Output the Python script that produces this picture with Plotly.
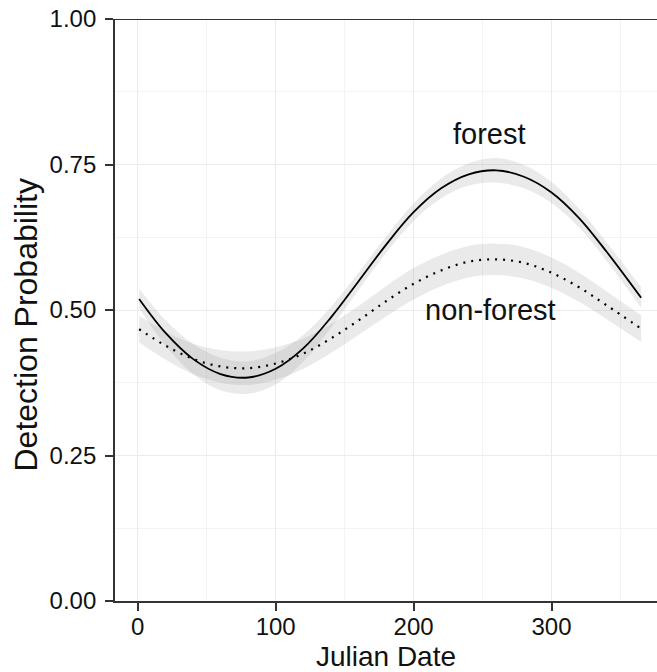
import plotly.graph_objects as go

# Julian day sample points
days = [1, 20, 40, 60, 80, 100, 120, 140, 160, 180, 200, 220, 240, 260, 280, 300, 320, 340, 365]

forest = [0.519, 0.461, 0.416, 0.390, 0.384, 0.399, 0.434, 0.487, 0.549, 0.612,
          0.668, 0.709, 0.733, 0.740, 0.729, 0.702, 0.658, 0.600, 0.521]
forest_lo = [0.503, 0.439, 0.390, 0.362, 0.356, 0.372, 0.411, 0.469, 0.534, 0.598,
             0.653, 0.692, 0.714, 0.719, 0.709, 0.684, 0.642, 0.584, 0.504]
forest_hi = [0.537, 0.483, 0.442, 0.418, 0.412, 0.426, 0.457, 0.505, 0.564, 0.626,
             0.683, 0.726, 0.752, 0.761, 0.749, 0.720, 0.674, 0.616, 0.539]

nonforest = [0.467, 0.439, 0.416, 0.403, 0.400, 0.408, 0.425, 0.451, 0.482, 0.515,
             0.545, 0.568, 0.583, 0.587, 0.581, 0.564, 0.539, 0.508, 0.468]
nonforest_lo = [0.444, 0.415, 0.390, 0.375, 0.371, 0.380, 0.399, 0.426, 0.457, 0.489,
                0.518, 0.541, 0.556, 0.560, 0.554, 0.538, 0.514, 0.484, 0.445]
nonforest_hi = [0.490, 0.463, 0.442, 0.431, 0.429, 0.436, 0.451, 0.476, 0.507, 0.541,
                0.572, 0.595, 0.610, 0.614, 0.608, 0.590, 0.564, 0.532, 0.491]

x_ticks = [0, 100, 200, 300]
y_ticks = [0.00, 0.25, 0.50, 0.75, 1.00]
y_tick_labels = ["0.00", "0.25", "0.50", "0.75", "1.00"]

band_fill = "rgba(150,150,150,0.20)"
FONT = "Liberation Sans, Arial, sans-serif"

fig = go.Figure()

for lo, hi in [(forest_lo, forest_hi), (nonforest_lo, nonforest_hi)]:
    fig.add_trace(go.Scatter(x=days, y=lo, mode="lines", line=dict(width=0, shape="spline"),
                             showlegend=False, hoverinfo="skip"))
    fig.add_trace(go.Scatter(x=days, y=hi, mode="lines", line=dict(width=0, shape="spline"),
                             fill="tonexty", fillcolor=band_fill, showlegend=False, hoverinfo="skip"))

fig.add_trace(go.Scatter(x=days, y=forest, mode="lines", name="forest",
                         line=dict(color="black", width=1.8, shape="spline"), showlegend=False))
fig.add_trace(go.Scatter(x=days, y=nonforest, mode="lines", name="non-forest",
                         line=dict(color="black", width=2.2, shape="spline", dash="2px,6px"),
                         showlegend=False))

fig.add_annotation(x=255, y=0.8025, text="forest", showarrow=False,
                   font=dict(size=29, color="#111", family=FONT), xanchor="center", yanchor="middle")
fig.add_annotation(x=255.5, y=0.50, text="non-forest", showarrow=False,
                   font=dict(size=29, color="#111", family=FONT), xanchor="center", yanchor="middle")

# y-axis title
fig.add_annotation(xref="paper", yref="paper", x=(25 - 115) / 542, y=(601.5 - 326) / 582,
                   text="Detection Probability", textangle=-90, showarrow=False,
                   font=dict(size=32, color="#111", family=FONT), xanchor="center", yanchor="middle")

# top border line
fig.add_shape(type="line", xref="paper", yref="y", x0=0, x1=1, y0=1, y1=1,
              line=dict(color="#333", width=1.8))

axis_common = dict(
    showline=True, linecolor="#333", linewidth=1.8,
    ticks="outside", ticklen=8, tickwidth=1.6, tickcolor="#333",
    showgrid=True, gridcolor="#ebebeb", gridwidth=1, zeroline=False,
    tickfont=dict(size=24, color="#111", family=FONT),
)

fig.update_xaxes(range=[-16.5, 376.5], tickvals=x_ticks, ticklabelstandoff=-5,
                 minor=dict(dtick=50, tick0=0, showgrid=True, gridcolor="#f3f3f3", gridwidth=1, ticks=""),
                 title=dict(text="Julian Date", font=dict(size=28, color="#111", family=FONT), standoff=12),
                 **axis_common)
fig.update_yaxes(range=[0, 1], tickvals=y_ticks, ticktext=y_tick_labels, ticklabelstandoff=4,
                 minor=dict(dtick=0.125, tick0=0, showgrid=True, gridcolor="#f3f3f3", gridwidth=1, ticks=""),
                 **axis_common)

fig.update_layout(
    width=657, height=672,
    margin=dict(l=115, r=0, t=19, b=71),
    plot_bgcolor="white", paper_bgcolor="white",
    font=dict(family=FONT),
)

fig.write_html("out.html", config={"displayModeBar": False},
               post_script="document.body.style.margin='0';document.body.style.overflow='hidden';")
